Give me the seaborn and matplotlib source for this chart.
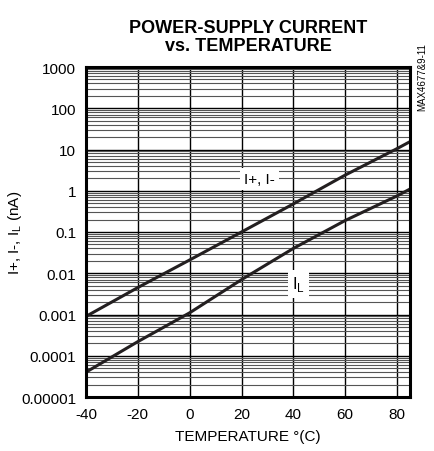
import seaborn as sns
import matplotlib.pyplot as plt
import matplotlib.ticker as mticker
import pandas as pd
import numpy as np

temp = [-40, -20, 0, 20, 40, 60, 80, 85]
i_supply = [0.0009, 0.0045, 0.021, 0.1, 0.48, 2.4, 10.5, 15.5]
i_leak = [0.00004, 0.00022, 0.0011, 0.007, 0.04, 0.19, 0.75, 1.1]

data = pd.DataFrame({"Temperature": temp * 2,
                     "Current": i_supply + i_leak,
                     "Series": ["I+, I-"] * len(temp) + ["IL"] * len(temp)})

sns.set_style("white")
plt.rcParams['font.family'] = ['Liberation Sans', 'DejaVu Sans']
plt.rcParams['axes.unicode_minus'] = False
plt.rcParams['text.color'] = 'black'
plt.rcParams['axes.labelcolor'] = 'black'
plt.rcParams['xtick.color'] = 'black'
plt.rcParams['ytick.color'] = 'black'

fig = plt.figure(figsize=(4.35, 4.52), dpi=100)
ax = fig.add_axes([86/435, 54/452, 324/435, 330/452])
sns.lineplot(data=data, x="Temperature", y="Current", units="Series", estimator=None,
             color="#231f20", linewidth=2.2, ax=ax, legend=False)
ax.set_yscale("log")
ax.set_xlim(-40, 85)
ax.set_ylim(1e-5, 1e3)
ax.set_xticks([-40, -20, 0, 20, 40, 60, 80])
yt = [1e-5, 1e-4, 1e-3, 1e-2, 1e-1, 1, 10, 100, 1000]
ax.set_yticks(yt)
ax.set_yticklabels(["0.00001", "0.0001", "0.001", "0.01", "0.1", "1", "10", "100", "1000"])
ax.yaxis.set_minor_locator(mticker.LogLocator(base=10, subs=np.arange(2, 10), numticks=20))
ax.yaxis.set_minor_formatter(mticker.NullFormatter())
ax.grid(which="major", axis="both", color="black", linewidth=1.0)
ax.grid(which="minor", axis="y", color="#555555", linewidth=0.8)
ax.tick_params(axis="both", which="both", length=0, labelsize=11, pad=7)
for s in ax.spines.values():
    s.set_linewidth(2.2)
    s.set_color("black")

ax.set_xlabel("TEMPERATURE °(C)", fontsize=11, labelpad=6)
ax.set_ylabel("I+, I-, I$_\\mathregular{L}$ (nA)", fontsize=11)
ax.yaxis.set_label_coords(-0.19, 0.5)
ax.set_title("POWER-SUPPLY CURRENT\nvs. TEMPERATURE", fontsize=13, fontweight="bold",
             linespacing=1.1, pad=12)

box = dict(facecolor="white", edgecolor="none", pad=3)
ax.text(27, 1.9, "I+, I-", fontsize=11, ha="center", va="center", bbox=box)
ax.text(42, 0.0055, "I$_\\mathregular{L}$", fontsize=12, ha="center", va="center", bbox=box)
fig.text(0.97, 0.83, "MAX4677&9-11", rotation=90, fontsize=7, ha="center", va="center")

plt.savefig("out.png", dpi=100)
